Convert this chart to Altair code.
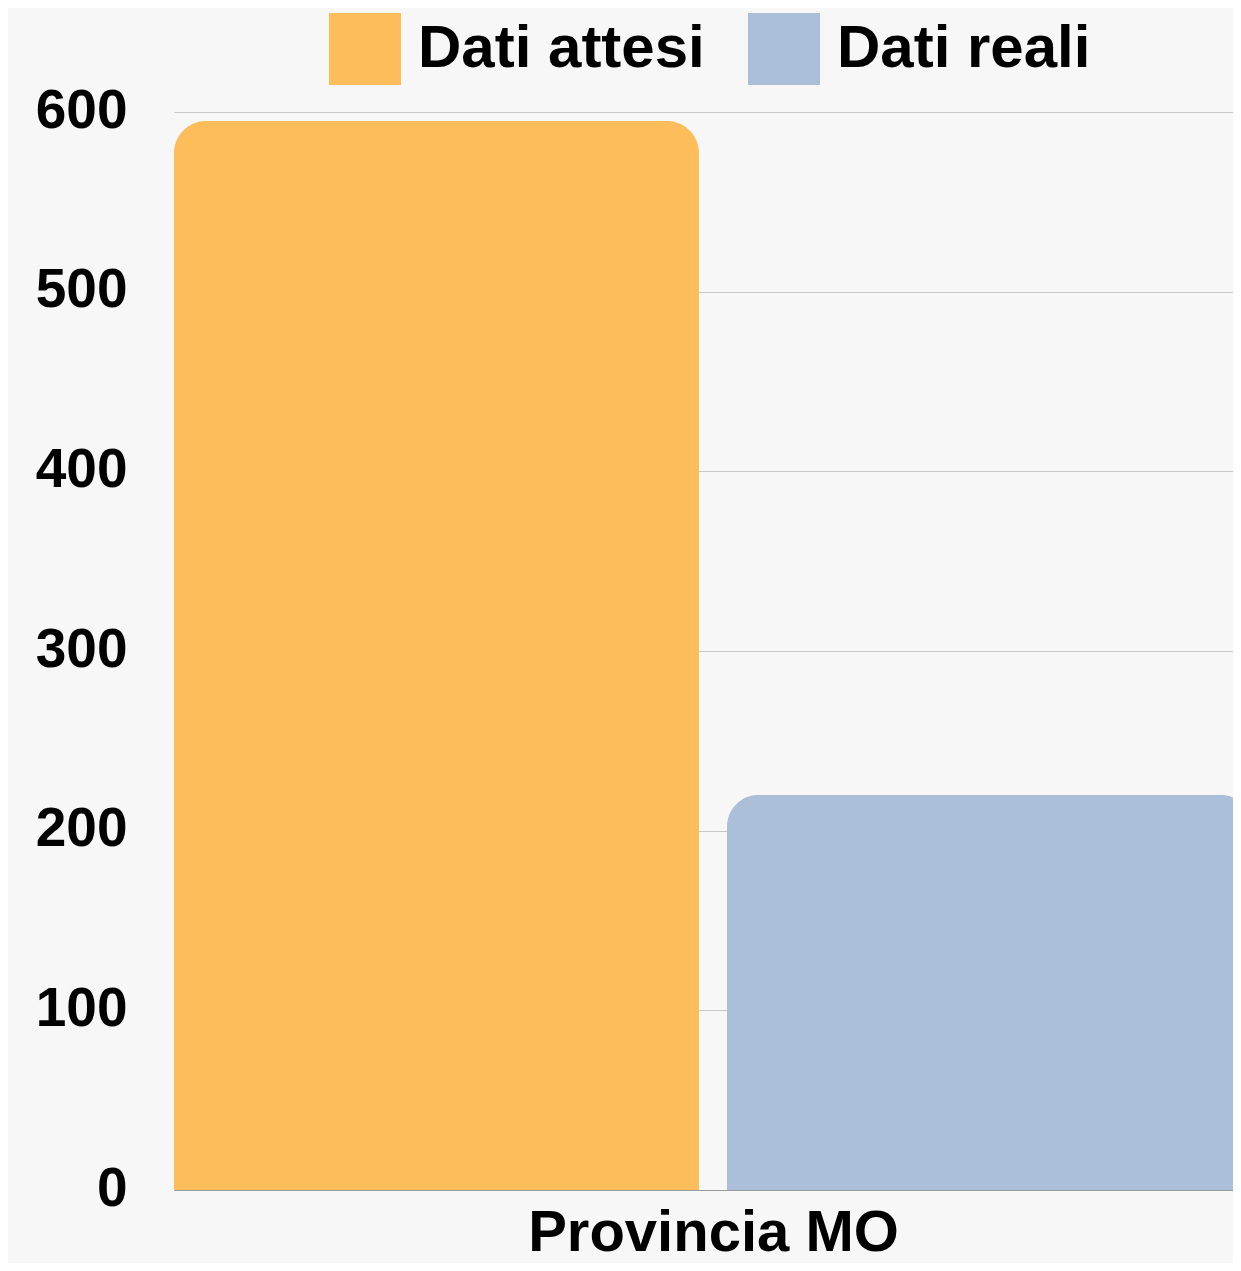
import altair as alt
import pandas as pd

categories = ["Provincia MO"]
series = ["Dati attesi", "Dati reali"]
values_attesi = [595]
values_reali = [220]
colors = ["#FEBD5B", "#ABBFD8"]

rows = []
for i, c in enumerate(categories):
    rows.append({"categoria": c, "serie": series[0], "valore": int(values_attesi[i])})
    rows.append({"categoria": c, "serie": series[1], "valore": int(values_reali[i])})
df = pd.DataFrame(rows)

FONT = "Liberation Sans"

chart = alt.Chart(df).mark_bar(
    cornerRadiusTopLeft=32, cornerRadiusTopRight=32
).encode(
    x=alt.X("serie:N", sort=series,
            scale=alt.Scale(range=[0, 1078], paddingInner=0.0506, paddingOuter=0),
            axis=alt.Axis(title=categories[0], labels=False, ticks=False, domain=True, domainColor="#999999",
                          titleFontSize=58, titleFont=FONT, titleFontWeight="bold", titleColor="#000000",
                          titlePadding=14, titleLimit=1000, grid=False)),
    y=alt.Y("valore:Q", scale=alt.Scale(domain=[0, 600], nice=False),
            axis=alt.Axis(title=None, values=[0, 100, 200, 300, 400, 500, 600], domain=False, ticks=False,
                          labelFontSize=55, labelFont=FONT, labelFontWeight="bold", labelColor="#000000",
                          labelPadding=47, labelOffset=-2, grid=True, gridColor="#c8c8c8", gridWidth=1)),
    color=alt.Color("serie:N", sort=series, scale=alt.Scale(domain=series, range=colors),
                    legend=alt.Legend(title=None, orient="none", legendX=155, legendY=-99,
                                      direction="horizontal", symbolType="square", symbolSize=5184,
                                      symbolStrokeWidth=0, symbolOpacity=1, labelFontSize=60,
                                      labelFont=FONT, labelFontWeight="bold", labelColor="#000000",
                                      labelOffset=17, columnPadding=43, padding=0, labelLimit=500)),
).properties(
    width=1059, height=1078,
    autosize=alt.AutoSizeParams(type="none"),
    padding={"left": 166, "top": 104, "right": 0, "bottom": 73},
    background="#f7f7f7",
).configure_view(stroke=None)

chart.save("out.html", embed_options={"renderer": "svg", "actions": False})
